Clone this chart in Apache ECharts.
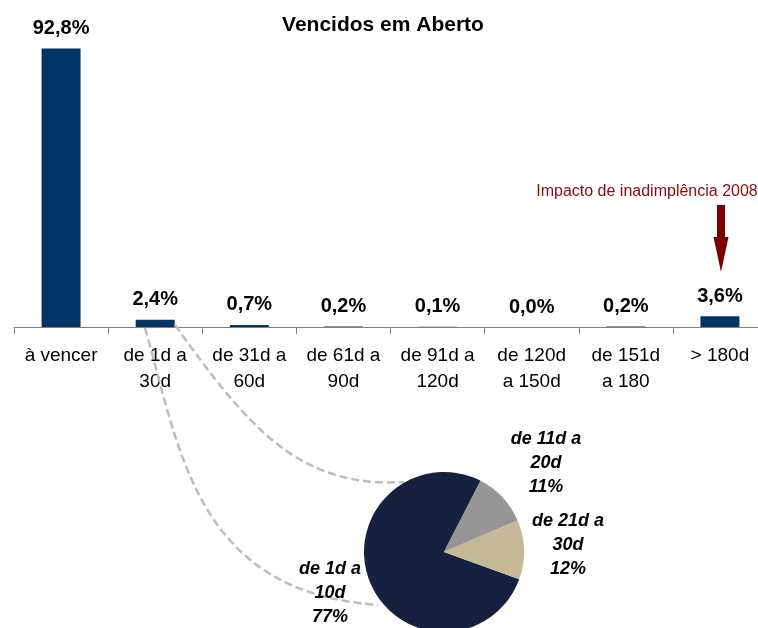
<!DOCTYPE html>
<html>
<head>
<meta charset="utf-8">
<script src="https://cdn.jsdelivr.net/npm/echarts@6/dist/echarts.min.js"></script>
<style>
html,body{margin:0;padding:0;background:#fff;}
#c{width:758px;height:628px;}
</style>
</head>
<body>
<div id="c"></div>
<script>
// ---- data ----
const categories = ['à vencer', 'de 1d a\n30d', 'de 31d a\n60d', 'de 61d a\n90d', 'de 91d a\n120d', 'de 120d\na 150d', 'de 151d\na 180', '> 180d'];
const values = [92.8, 2.4, 0.7, 0.2, 0.1, 0.0, 0.2, 3.6];
const pieNames = ['de 1d a\n10d', 'de 11d a\n20d', 'de 21d a\n30d'];
const pieValues = [77, 11, 12];
const titleText = 'Vencidos em Aberto';
const noteText = 'Impacto de inadimplência 2008';

// ---- layout / style ----
const FONT = '"Liberation Sans", Arial, sans-serif';
const pieColors = ['#16213F', '#969696', '#C4B897'];
const pieLabelPos = [[330, 593], [546, 463], [568, 545]];

const chart = echarts.init(document.getElementById('c'), null, {renderer: 'canvas'});
const option = {
  animation: false,
  backgroundColor: '#ffffff',
  grid: {left: 14, top: 27, width: 753, height: 300, containLabel: false, outerBoundsMode: 'none'},
  xAxis: {
    type: 'category',
    data: categories,
    boundaryGap: true,
    axisLine: {lineStyle: {color: '#7f7f7f', width: 1}},
    axisTick: {show: true, length: 7, alignWithLabel: false, lineStyle: {color: '#7f7f7f'}},
    axisLabel: {interval: 0, color: '#000', fontFamily: FONT, fontSize: 19, lineHeight: 26, margin: 16}
  },
  yAxis: {type: 'value', min: 0, max: 100, show: false, splitLine: {show: false}},
  series: [
    {
      type: 'bar',
      data: values,
      barWidth: 39,
      itemStyle: {color: '#033466'},
      silent: true,
      label: {
        show: true,
        position: 'top',
        distance: 10,
        color: '#000',
        fontFamily: FONT,
        fontWeight: 'bold',
        fontSize: 20,
        formatter: p => p.value.toFixed(1).replace('.', ',') + '%'
      },
      z: 2
    },
    {
      type: 'pie',
      center: [444, 552],
      radius: 80,
      startAngle: -20,
      clockwise: true,
      silent: true,
      z: 100,
      data: pieNames.map((n, i) => ({name: n, value: pieValues[i], itemStyle: {color: pieColors[i]}})),
      label: {
        show: true,
        position: 'outside',
        color: '#000',
        fontFamily: FONT,
        fontWeight: 'bold',
        fontStyle: 'italic',
        fontSize: 18,
        lineHeight: 24,
        align: 'center',
        formatter: p => p.name + '\n' + p.value + '%'
      },
      labelLine: {show: false},
      labelLayout: function (params) {
        const p = pieLabelPos[params.dataIndex];
        return {x: p[0], y: p[1], align: 'center', verticalAlign: 'middle'};
      },
      emphasis: {disabled: true}
    }
  ],
  graphic: [
    {type: 'rect', z: 50, shape: {x: 0, y: 387, width: 758, height: 18}, style: {fill: '#ffffff'}},
    {type: 'text', z: 60, x: 383, y: 25, style: {text: titleText, font: 'bold 21px ' + FONT, fill: '#000', align: 'center', verticalAlign: 'middle'}},
    {type: 'text', z: 60, x: 647, y: 192, style: {text: noteText, font: '16px ' + FONT, fill: '#8B0A0A', align: 'center', verticalAlign: 'middle'}},
    {type: 'polygon', z: 60, shape: {points: [[717, 205], [725, 205], [725, 237], [728.5, 237], [721, 272], [713.5, 237], [717, 237]]}, style: {fill: '#7B0000'}},
    {type: 'bezierCurve', z: 60, shape: {x1: 175, y1: 325, cpx1: 250, cpy1: 430, cpx2: 300, cpy2: 488, x2: 404, y2: 482}, style: {stroke: '#BDBDBD', lineWidth: 2.5, lineDash: [8, 4], fill: null}},
    {type: 'bezierCurve', z: 60, shape: {x1: 145, y1: 328, cpx1: 180, cpy1: 450, cpx2: 195, cpy2: 592, x2: 378, y2: 605}, style: {stroke: '#BDBDBD', lineWidth: 2.5, lineDash: [8, 4], fill: null}}
  ]
};
chart.setOption(option);
</script>
</body>
</html>
